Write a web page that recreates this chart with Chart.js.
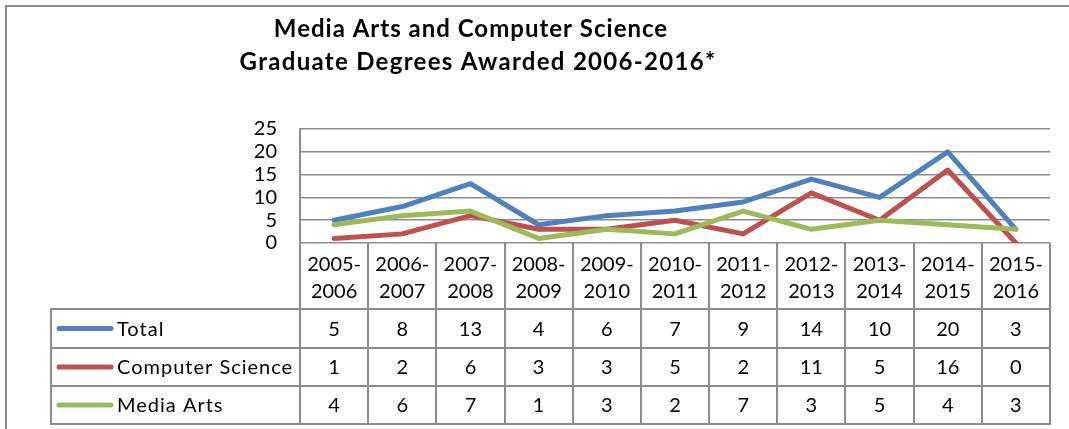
<!DOCTYPE html>
<html>
<head>
<meta charset="utf-8">
<script src="https://cdn.jsdelivr.net/npm/chart.js@4.4.1/dist/chart.umd.min.js"></script>
<style>
  html, body { margin: 0; padding: 0; background: #ffffff; }
  #wrap { width: 1069px; height: 429px; position: relative; }
</style>
</head>
<body>
<div id="wrap"><canvas id="c" width="1069" height="429"></canvas></div>
<script>
// ---- data ----
const titleLines = ["Media Arts and Computer Science", "Graduate Degrees Awarded 2006-2016*"];
const categories = [
  ["2005-", "2006"], ["2006-", "2007"], ["2007-", "2008"], ["2008-", "2009"],
  ["2009-", "2010"], ["2010-", "2011"], ["2011-", "2012"], ["2012-", "2013"],
  ["2013-", "2014"], ["2014-", "2015"], ["2015-", "2016"]
];
const seriesNames = ["Total", "Computer Science", "Media Arts"];
const totalValues = [5, 8, 13, 4, 6, 7, 9, 14, 10, 20, 3];
const computerScienceValues = [1, 2, 6, 3, 3, 5, 2, 11, 5, 16, 0];
const mediaArtsValues = [4, 6, 7, 1, 3, 2, 7, 3, 5, 4, 3];
const yTicks = [0, 5, 10, 15, 20, 25];

const seriesColors = ["#4F81BD", "#C0504D", "#9BBB59"];
const seriesValues = [totalValues, computerScienceValues, mediaArtsValues];

const FONT = "Lato, 'Open Sans', 'Liberation Sans', sans-serif";
const GRID = "#8c8c8c";

// ---- layout constants ----
const TABLE_LEFT = 51;
const HEADER_BOTTOM = 309;
const ROW_BOTTOMS = [348, 386, 424];

function setSpacing(ctx, v) {
  if ('letterSpacing' in ctx) ctx.letterSpacing = v;
}

const tablePlugin = {
  id: 'dataTable',
  afterDraw(chart) {
    const ctx = chart.ctx;
    const xs = chart.scales.x;
    const area = chart.chartArea;
    const n = categories.length;
    const colW = (area.right - area.left) / n;
    const top = area.bottom;
    const bottom = ROW_BOTTOMS[ROW_BOTTOMS.length - 1];
    ctx.save();

    // title
    ctx.fillStyle = "#000";
    ctx.font = "bold 24px " + FONT;
    ctx.textAlign = "center";
    ctx.textBaseline = "alphabetic";
    setSpacing(ctx, "1px");
    ctx.fillText(titleLines[0], 471, 37);
    setSpacing(ctx, "1.3px");
    ctx.fillText(titleLines[1], 478, 70);
    setSpacing(ctx, "0px");

    // table grid lines
    ctx.strokeStyle = GRID;
    ctx.lineWidth = 2;
    ctx.beginPath();
    for (let k = 0; k <= n; k++) {
      const x = Math.round(area.left + k * colW);
      ctx.moveTo(x, top);
      ctx.lineTo(x, bottom + 1);
    }
    ctx.moveTo(TABLE_LEFT, HEADER_BOTTOM);
    ctx.lineTo(TABLE_LEFT, bottom + 1);
    [HEADER_BOTTOM].concat(ROW_BOTTOMS).forEach(y => {
      ctx.moveTo(TABLE_LEFT - 1, y);
      ctx.lineTo(Math.round(area.right) + 1, y);
    });
    ctx.stroke();

    // header labels
    ctx.fillStyle = "#000";
    ctx.font = "20px " + FONT;
    ctx.textAlign = "center";
    ctx.textBaseline = "middle";
    categories.forEach((c, i) => {
      const x = xs.getPixelForValue(i);
      ctx.fillText(c[0], x, 265);
      ctx.fillText(c[1], x, 292);
    });

    // rows
    let prev = HEADER_BOTTOM;
    ROW_BOTTOMS.forEach((yb, r) => {
      const yc = (prev + yb) / 2 + 1;
      prev = yb;
      // legend key
      ctx.strokeStyle = seriesColors[r];
      ctx.lineWidth = 5;
      ctx.lineCap = "round";
      ctx.beginPath();
      ctx.moveTo(59, yc - 1);
      ctx.lineTo(111, yc - 1);
      ctx.stroke();
      ctx.fillStyle = "#000";
      ctx.textAlign = "left";
      setSpacing(ctx, "1px");
      ctx.fillText(seriesNames[r], 117, yc);
      setSpacing(ctx, "0px");
      ctx.textAlign = "center";
      seriesValues[r].forEach((v, i) => {
        ctx.fillText(String(v), xs.getPixelForValue(i), yc);
      });
    });

    // outer chart border
    ctx.strokeStyle = GRID;
    ctx.lineWidth = 2;
    ctx.lineCap = "butt";
    ctx.beginPath();
    ctx.moveTo(6, 429);
    ctx.lineTo(6, 6);
    ctx.lineTo(1069, 6);
    ctx.stroke();
    ctx.restore();
  }
};

const datasets = seriesNames.map((name, i) => ({
  label: name,
  data: seriesValues[i],
  borderColor: seriesColors[i],
  backgroundColor: seriesColors[i],
  borderWidth: 5,
  pointRadius: 0,
  pointHoverRadius: 0,
  tension: 0,
  borderJoinStyle: 'round',
  borderCapStyle: 'round',
  order: 3 - i,
  fill: false
}));

new Chart(document.getElementById('c'), {
  type: 'line',
  data: { labels: categories.map(c => c.join('')), datasets },
  options: {
    responsive: false,
    animation: false,
    devicePixelRatio: 1,
    layout: { padding: { top: 129, bottom: 186, left: 0, right: 19 } },
    plugins: { legend: { display: false }, title: { display: false }, tooltip: { enabled: false } },
    scales: {
      x: { type: 'category', display: false, offset: true },
      y: {
        min: 0, max: 25,
        afterFit(scale) { scale.width = 300; },
        afterBuildTicks(scale) { scale.ticks = yTicks.map(v => ({ value: v })); },
        ticks: { color: '#000', font: { family: FONT, size: 20 }, padding: 23, autoSkip: false },
        grid: { color: GRID, lineWidth: 1.5, drawTicks: false },
        border: { display: true, color: GRID, width: 2 }
      }
    }
  },
  plugins: [tablePlugin]
});
</script>
</body>
</html>
